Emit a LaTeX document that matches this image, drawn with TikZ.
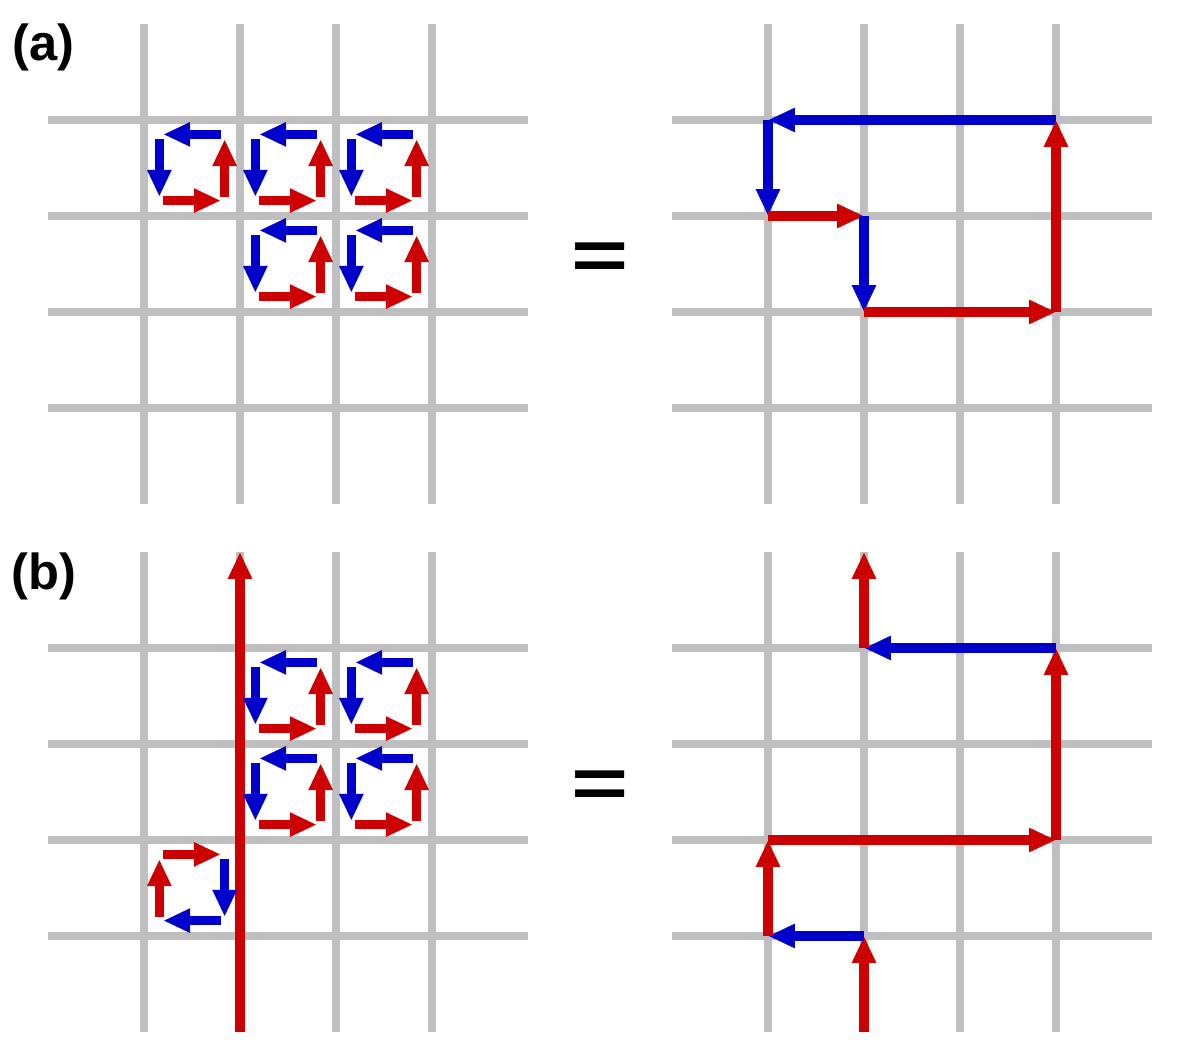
\documentclass[tikz,border=0pt]{standalone}
\usepackage{fontspec}
\setmainfont{Liberation Sans}
\usetikzlibrary{arrows.meta}
\definecolor{siva}{RGB}{191,191,191}
\definecolor{crvena}{RGB}{204,0,0}
\definecolor{plava}{RGB}{0,0,204}
\tikzset{
  mreza/.style={draw=siva,line width=0.085cm},
  pl/.style={-{Triangle[length=0.28cm,width=0.235cm]},line width=0.1cm,crvena},
  mi/.style={-{Triangle[length=0.28cm,width=0.235cm]},line width=0.1cm,plava},
  oznaka/.style={font=\fontsize{15}{18}\selectfont\bfseries,inner sep=0pt},
  jednako/.style={font=\fontsize{29}{32}\selectfont\bfseries,inner sep=0pt},
}
% plaketa u celiji sa donjim levim uglom (#1,#2), suprotno kazaljci
\newcommand{\plaketa}[2]{%
  \begin{scope}[shift={(#1,#2)}]
    \draw[mi] (0.8,0.85) -- (0.2,0.85);
    \draw[mi] (0.16,0.8) -- (0.16,0.2);
    \draw[pl] (0.2,0.16) -- (0.8,0.16);
    \draw[pl] (0.84,0.2) -- (0.84,0.8);
  \end{scope}}
% ista plaketa, u smeru kazaljke
\newcommand{\plaketak}[2]{%
  \begin{scope}[shift={(#1,#2)}]
    \draw[pl] (0.2,0.85) -- (0.8,0.85);
    \draw[mi] (0.84,0.8) -- (0.84,0.2);
    \draw[mi] (0.8,0.16) -- (0.2,0.16);
    \draw[pl] (0.16,0.2) -- (0.16,0.8);
  \end{scope}}

\begin{document}
\begin{tikzpicture}
  \useasboundingbox (0,0) rectangle (12.5,11);

  % ---------- MREZE (cvorovi: \p\i\j) ----------
  \foreach \p/\x/\y in {al/1.5/6.75, ad/8/6.75, bl/1.5/1.25, bd/8/1.25}{
    \begin{scope}[shift={(\x,\y)}]
      \foreach \k in {0,...,3}{
        \draw[mreza] (\k,-1) -- (\k,4);
        \draw[mreza] (-1,\k) -- (4,\k);
      }
      \foreach \i in {0,...,3}
        \foreach \j in {-1,...,4}
          \coordinate (\p\i\j) at (\i,\j);
    \end{scope}
  }

  % ---------- (a) ----------
  \node[oznaka] (oznA) at (0.453,10.505) {(a)};
  \begin{scope}[shift={(al00)}]
    \foreach \i/\j in {0/2, 1/2, 2/2, 1/1, 2/1}{\plaketa{\i}{\j}}
  \end{scope}
  \node[jednako] (jedA) at (6.25,8.28) {\scalebox{1}[0.72]{=}};
  \draw[mi] (ad33) -- (ad03);
  \draw[mi] (ad03) -- (ad02);
  \draw[pl] (ad02) -- (ad12);
  \draw[mi] (ad12) -- (ad11);
  \draw[pl] (ad11) -- (ad31);
  \draw[pl] (ad31) -- (ad33);

  % ---------- (b) ----------
  \node[oznaka] (oznB) at (0.458,4.993) {(b)};
  \draw[pl] (bl1-1) -- (bl14);
  \begin{scope}[shift={(bl00)}]
    \foreach \i/\j in {1/2, 2/2, 1/1, 2/1}{\plaketa{\i}{\j}}
    \plaketak{0}{0}
  \end{scope}
  \node[jednako] (jedB) at (6.25,2.78) {\scalebox{1}[0.72]{=}};
  \draw[pl] (bd1-1) -- (bd10);
  \draw[mi] (bd10) -- (bd00);
  \draw[pl] (bd00) -- (bd01);
  \draw[pl] (bd01) -- (bd31);
  \draw[pl] (bd31) -- (bd33);
  \draw[mi] (bd33) -- (bd13);
  \draw[pl] (bd13) -- (bd14);

\end{tikzpicture}
\end{document}
